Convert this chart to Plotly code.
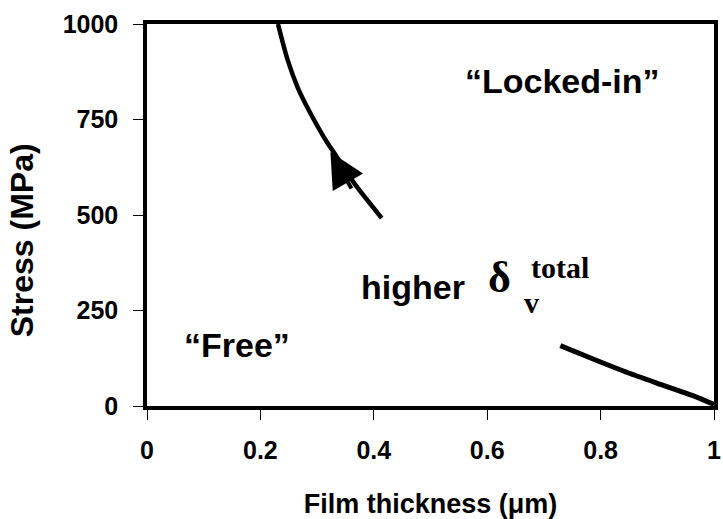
import plotly.graph_objects as go

# Data
upper_x = [0.231, 0.248, 0.266, 0.288, 0.318, 0.330, 0.365, 0.414]
upper_y = [1000, 906, 833, 767, 689, 663, 584, 492]
lower_x = [0.729, 0.790, 0.848, 0.907, 0.965, 1.0]
lower_y = [158, 121, 87, 56, 26, 4]

x_ticks = [0, 0.2, 0.4, 0.6, 0.8, 1]
x_tick_labels = ["0", "0.2", "0.4", "0.6", "0.8", "1"]
y_ticks = [0, 250, 500, 750, 1000]
y_tick_labels = ["0", "250", "500", "750", "1000"]

SANS = "Liberation Sans, Arial, sans-serif"
SERIF = "Liberation Serif, Times New Roman, serif"

fig = go.Figure()
fig.add_trace(go.Scatter(x=upper_x, y=upper_y, mode="lines",
                         line=dict(color="black", width=4.5, shape="spline", smoothing=0.8),
                         showlegend=False, hoverinfo="skip"))
fig.add_trace(go.Scatter(x=lower_x, y=lower_y, mode="lines",
                         line=dict(color="black", width=5, shape="spline", smoothing=0.6),
                         showlegend=False, hoverinfo="skip"))

axis_common = dict(showgrid=False, zeroline=False, color="black", automargin=False)

fig.update_layout(
    width=723, height=519,
    margin=dict(l=147, r=9, t=24, b=113),
    paper_bgcolor="white", plot_bgcolor="white",
    xaxis=dict(range=[0, 1], tickvals=x_ticks, ticktext=x_tick_labels,
               ticks="outside", ticklen=10, tickwidth=1.2, tickcolor="black",
               showline=True, linewidth=3.5, linecolor="black", mirror=True,
               ticklabelstandoff=9, ticklabeloverflow="allow",
               tickfont=dict(family=SANS, size=25, color="black", weight="bold"),
               title=dict(text="Film thickness (\u03bcm)", standoff=33,
                          font=dict(family=SANS, size=27, color="black", weight="bold")),
               **axis_common),
    yaxis=dict(range=[0, 1000], tickvals=y_ticks, ticktext=y_tick_labels,
               ticks="outside", ticklen=10, tickwidth=1.2, tickcolor="black",
               showline=True, linewidth=3.5, linecolor="black", mirror=True,
               ticklabelstandoff=10, ticklabeloverflow="allow",
               tickfont=dict(family=SANS, size=25, color="black", weight="bold"),
               **axis_common),
    xaxis2=dict(range=[0, 1], overlaying="x", anchor="y", side="bottom",
                tickvals=x_ticks, ticks="inside", ticklen=10, tickwidth=1.2,
                tickcolor="black", showticklabels=False, showline=False,
                **axis_common),
    yaxis2=dict(range=[0, 1000], overlaying="y", anchor="x", side="left",
                tickvals=y_ticks, ticks="inside", ticklen=10, tickwidth=1.2,
                tickcolor="black", showticklabels=False, showline=False,
                **axis_common),
)

# Arrow head on the upper curve
fig.add_annotation(x=0.3234, y=665, xref="x", yref="y", ax=22, ay=38,
                   text="", showarrow=True, arrowhead=2, arrowsize=1.75,
                   arrowwidth=4, arrowcolor="black")

ann = []
ann.append(dict(text="\u201cLocked-in\u201d", x=0.733, y=851,
                font=dict(family=SANS, size=34, color="black", weight="bold")))
ann.append(dict(text="\u201cFree\u201d", x=0.159, y=161,
                font=dict(family=SANS, size=34, color="black", weight="bold")))
ann.append(dict(text="higher", x=0.4685, y=311,
                font=dict(family=SANS, size=34, color="black", weight="bold")))
ann.append(dict(text="\u03b4", x=0.621, y=336,
                font=dict(family=SERIF, size=44, color="black", weight="bold")))
ann.append(dict(text="total", x=0.674, y=362, xanchor="left",
                font=dict(family=SERIF, size=30, color="black", weight="bold")))
ann.append(dict(text="v", x=0.662, y=271, xanchor="left",
                font=dict(family=SERIF, size=30, color="black", weight="bold")))
for a in ann:
    a.setdefault("xanchor", "center")
    fig.add_annotation(xref="x", yref="y", showarrow=False, yanchor="middle", **a)

# Y axis title
fig.add_annotation(text="Stress (MPa)", xref="paper", yref="paper",
                   x=-0.22, y=0.4346, xanchor="center", yanchor="middle",
                   textangle=-90, showarrow=False,
                   font=dict(family=SANS, size=32, color="black", weight="bold"))

fig.write_html("out.html")
